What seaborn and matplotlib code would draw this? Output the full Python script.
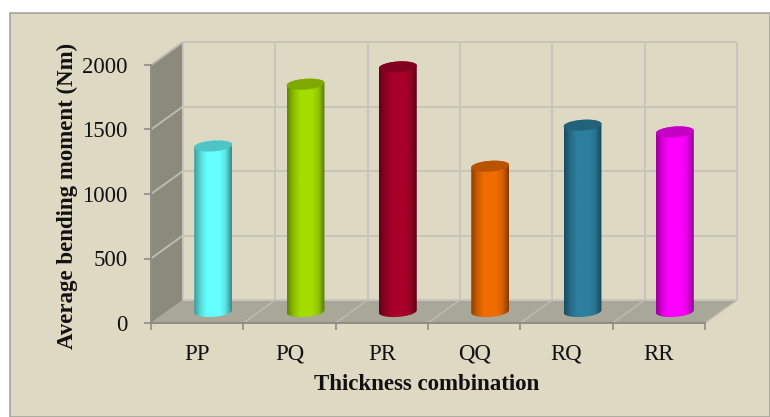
import numpy as np
import pandas as pd
import matplotlib
matplotlib.use("Agg")
import matplotlib.pyplot as plt
from matplotlib.patches import Rectangle, Polygon
from matplotlib.colors import LinearSegmentedColormap, to_rgb
from matplotlib.transforms import IdentityTransform
import seaborn as sns

categories = ["PP", "PQ", "PR", "QQ", "RQ", "RR"]
moments = [1283, 1762, 1896, 1126, 1444, 1392]
colors = ["#66FFFF", "#A3DC00", "#A80028", "#F06C00", "#2C7F9F", "#FF00FF"]
y_ticks = [0, 500, 1000, 1500, 2000]

sns.set_theme(style="white")
plt.rcParams["font.family"] = ["Liberation Serif", "DejaVu Serif"]

W, H = 770, 417
BG = "#DDD9C3"
GRID = "#C8C5BD"
fig = plt.figure(figsize=(W / 100, H / 100), dpi=100, facecolor="white")
fig.patches.append(Rectangle((10 / W, 0), (W - 10) / W, (H - 13) / H, transform=fig.transFigure,
                             facecolor=BG, edgecolor="#A6A49A", linewidth=1.2, zorder=-5))

L, B, AW, AH = 151, H - 323, 554, 258
DX, DY = 32, 23


def make_axes(frac, z):
    a = fig.add_axes([(L + DX * frac) / W, (B + DY * frac) / H, AW / W, AH / H], zorder=z)
    a.patch.set_visible(False)
    a.set_xlim(-0.5, 5.5)
    a.set_ylim(0, 2000)
    return a


back = make_axes(1.0, 1)
front = make_axes(0.0, 2)
bars = make_axes(0.5, 3)
back.axis("off")


def px(a, x, y):
    return tuple(a.transData.transform((x, y)))


def shape(pts, **kw):
    back.add_patch(Polygon(pts, closed=True, transform=IdentityTransform(), clip_on=False, **kw))


def line(p, q, color=GRID, lw=1.4):
    back.plot([p[0], q[0]], [p[1], q[1]], transform=IdentityTransform(), color=color, lw=lw,
              clip_on=False, solid_capstyle="butt")


# side wall and floor
shape([px(front, -0.5, 0), px(back, -0.5, 0), px(back, -0.5, 2000), px(front, -0.5, 2000)],
      facecolor="#8C8A7B", edgecolor="none")
shape([px(front, -0.5, 0), px(front, 5.5, 0), px(back, 5.5, 0), px(back, -0.5, 0)],
      facecolor="#A9A797", edgecolor="none")

# grid on walls and floor
for v in y_ticks:
    line(px(back, -0.5, v), px(back, 5.5, v))
    if v > 0:
        line(px(front, -0.5, v), px(back, -0.5, v), color="#BDBBB0")
for e in np.arange(-0.5, 6.0, 1.0):
    line(px(back, e, 0), px(back, e, 2000))
    if -0.5 < e:
        line(px(front, e, 0), px(back, e, 0), color="#BFBDB0", lw=1.0)
line(px(front, -0.5, 0), px(front, -0.5, 2000), color="#A3A197")

# front axis
for s in ["top", "right"]:
    front.spines[s].set_visible(False)
for s in ["left", "bottom"]:
    front.spines[s].set_color("#8E8D86")
    front.spines[s].set_linewidth(1.4)
front.set_yticks(y_ticks)
front.set_xticks(np.arange(-0.5, 6.0, 1.0))
front.set_xticklabels([])
front.set_xticks(np.arange(6), labels=categories, minor=True)
front.tick_params(axis="y", which="major", length=5, width=1.2, color="#8E8D86", left=True,
                  pad=12, labelsize=16.5, labelcolor="#111111")
front.tick_params(axis="x", which="major", length=5, width=1.2, color="#8E8D86", bottom=True)
front.tick_params(axis="x", which="minor", length=0, pad=15, labelsize=16.5, labelcolor="#111111")
front.set_xlabel("Thickness combination", fontsize=16.5, fontweight="bold", color="#111111")
front.set_ylabel("Average bending moment (Nm)", fontsize=16.5, fontweight="bold", color="#111111")
front.xaxis.set_label_coords((427 - L) / AW, -(385 - 323) / AH, transform=front.transAxes)
front.yaxis.set_label_coords((67 - L) / AW, (323 - 196) / AH, transform=front.transAxes)
front.xaxis.label.set_va("center")
front.yaxis.label.set_va("center")

# bars
df = pd.DataFrame({"combo": categories, "moment": moments})
sns.barplot(data=df, x="combo", y="moment", hue="combo", order=categories, hue_order=categories,
            palette=colors, saturation=1, width=0.41, legend=False, ax=bars, zorder=3)
bars.set_xlim(-0.5, 5.5)
bars.set_ylim(0, 2000)
bars.axis("off")

R = 5.4 * 2000 / AH       # ellipse half height in data units
TILT = 1.3 * 2000 / AH    # rise of the ellipse from its centre to its right end
ang = np.linspace(0, 2 * np.pi, 81)


def rim(x0, w, base, a):
    """Tilted cylinder rim around the centre (x0 + w / 2, base)."""
    return np.column_stack([x0 + w / 2 + w / 2 * np.cos(a),
                            base + R * np.sin(a) + TILT * np.cos(a)])


for patch, c in zip(bars.patches, colors):
    x0, w, h = patch.get_x(), patch.get_width(), patch.get_height()
    rgb = np.array(to_rgb(c))
    cm = LinearSegmentedColormap.from_list(
        "cyl", [rgb * 0.6, rgb * 0.85, rgb, rgb, rgb, rgb * 0.9, rgb * 0.55])
    im = bars.imshow(np.linspace(0, 1, 64)[None, :], cmap=cm, aspect="auto",
                     extent=(x0, x0 + w, -R - TILT, h + R + TILT), zorder=4)
    lower = rim(x0, w, 0, np.linspace(np.pi, 2 * np.pi, 41))
    upper = rim(x0, w, h, np.linspace(0, np.pi, 41))
    clip = Polygon(np.vstack([lower, upper]), closed=True, transform=bars.transData)
    im.set_clip_box(fig.bbox)
    im.set_clip_path(clip)
    patch.set_visible(False)
    bars.add_patch(Polygon(rim(x0, w, h, ang), closed=True, facecolor=rgb * 0.77,
                           edgecolor="none", zorder=5, clip_on=False))
bars.set_xlim(-0.5, 5.5)
bars.set_ylim(0, 2000)

fig.savefig("out.png", dpi=100, facecolor=fig.get_facecolor())
